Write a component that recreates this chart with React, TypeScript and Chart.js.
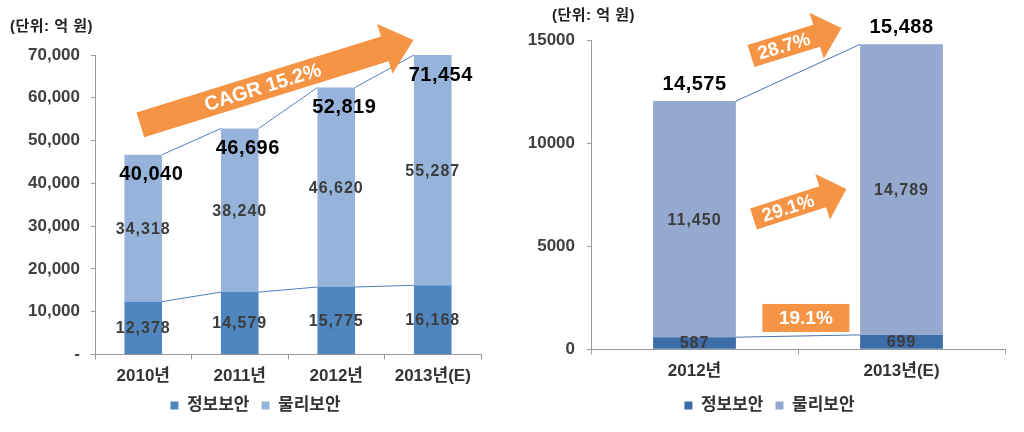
import React, { useEffect, useRef } from "react";
import { Chart, registerables } from "chart.js";
Chart.register(...registerables);

// ---------- data ----------
const seriesNames = ["정보보안", "물리보안"];
const unitLabel = "(단위: 억 원)";

const leftCategories = ["2010년", "2011년", "2012년", "2013년(E)"];
const leftInfoSec = [12378, 14579, 15775, 16168];
const leftPhysSec = [34318, 38240, 46620, 55287];
const leftTotalLabels = ["40,040", "46,696", "52,819", "71,454"];
const leftCagrLabel = "CAGR 15.2%";

const rightCategories = ["2012년", "2013년(E)"];
const rightInfoSec = [587, 699];
const rightPhysSec = [11450, 14090];
const rightInfoLabels = ["587", "699"];
const rightPhysLabels = ["11,450", "14,789"];
const rightTotalLabels = ["14,575", "15,488"];
const rightGrowthLabels = ["28.7%", "29.1%", "19.1%"];

// ---------- styles ----------
const FONT = "'Liberation Sans', 'Noto Sans CJK KR', sans-serif";
const ORANGE = "#F69446";
const fmt = (v: number) => v.toLocaleString("en-US");

type Arrow = {
  from: [number, number];
  to: [number, number];
  thick: number;
  headW: number;
  headL: number;
  text: string;
  size: number;
};
type Box = { center: [number, number]; w: number; h: number; text: string; size: number };

type OverlayCfg = {
  lineColor: string;
  innerLabels: string[][];
  totalLabels: string[];
  totalOffset: [number, number];
  unitPos: [number, number];
  legendShift: number;
  arrows: Arrow[];
  boxes: Box[];
};

function drawArrow(ctx: CanvasRenderingContext2D, x0: number, y0: number, x1: number, y1: number, a: Arrow) {
  const dx = x1 - x0, dy = y1 - y0;
  const L = Math.hypot(dx, dy);
  const ux = dx / L, uy = dy / L;
  const nx = -uy, ny = ux;
  const t = a.thick / 2, h = a.headW / 2;
  const bx = x1 - ux * a.headL, by = y1 - uy * a.headL;
  ctx.save();
  ctx.fillStyle = ORANGE;
  ctx.beginPath();
  ctx.moveTo(x0 + nx * t, y0 + ny * t);
  ctx.lineTo(bx + nx * t, by + ny * t);
  ctx.lineTo(bx + nx * h, by + ny * h);
  ctx.lineTo(x1, y1);
  ctx.lineTo(bx - nx * h, by - ny * h);
  ctx.lineTo(bx - nx * t, by - ny * t);
  ctx.lineTo(x0 - nx * t, y0 - ny * t);
  ctx.closePath();
  ctx.fill();
  ctx.translate((x0 + bx) / 2, (y0 + by) / 2);
  ctx.rotate(Math.atan2(dy, dx));
  ctx.fillStyle = "#ffffff";
  ctx.font = `bold ${a.size}px ${FONT}`;
  ctx.textAlign = "center";
  ctx.textBaseline = "middle";
  ctx.fillText(a.text, 0, 1);
  ctx.restore();
}

function makeOverlay(cfg: OverlayCfg) {
  return {
    id: "overlay",
    afterLayout(chart: any) {
      const lg = chart.legend;
      if (lg) {
        lg.left += cfg.legendShift;
        lg.right += cfg.legendShift;
      }
    },
    afterDatasetsDraw(chart: any) {
      const ctx: CanvasRenderingContext2D = chart.ctx;
      const area = chart.chartArea;
      const n = chart.data.labels.length;
      // series lines
      ctx.save();
      ctx.strokeStyle = cfg.lineColor;
      ctx.lineWidth = 1;
      chart.data.datasets.forEach((_: any, d: number) => {
        const meta = chart.getDatasetMeta(d);
        for (let i = 0; i < n - 1; i++) {
          const a = meta.data[i], b = meta.data[i + 1];
          ctx.beginPath();
          ctx.moveTo(a.x + a.width / 2, Math.max(a.y, area.top));
          ctx.lineTo(b.x - b.width / 2, Math.max(b.y, area.top));
          ctx.stroke();
        }
      });
      // inner labels
      ctx.fillStyle = "#3c3c3c";
      ctx.font = `bold 16px ${FONT}`;
      (ctx as any).letterSpacing = "1px";
      ctx.textAlign = "center";
      ctx.textBaseline = "middle";
      chart.data.datasets.forEach((_: any, d: number) => {
        const meta = chart.getDatasetMeta(d);
        meta.data.forEach((el: any, i: number) => {
          const top = Math.max(el.y, area.top);
          ctx.fillText(cfg.innerLabels[d][i], el.x, (top + el.base) / 2 + 1);
        });
      });
      (ctx as any).letterSpacing = "0px";
      ctx.restore();
    },
    afterDraw(chart: any) {
      const ctx: CanvasRenderingContext2D = chart.ctx;
      const area = chart.chartArea;
      const xs = chart.scales.x, ys = chart.scales.y;
      const last = chart.data.datasets.length - 1;
      const meta = chart.getDatasetMeta(last);
      ctx.save();
      // totals
      ctx.fillStyle = "#000000";
      ctx.font = `bold 20px ${FONT}`;
      (ctx as any).letterSpacing = "0.5px";
      ctx.textAlign = "center";
      ctx.textBaseline = "middle";
      meta.data.forEach((el: any, i: number) => {
        const top = Math.max(el.y, area.top);
        ctx.fillText(cfg.totalLabels[i], el.x + cfg.totalOffset[0], top + cfg.totalOffset[1]);
      });
      (ctx as any).letterSpacing = "0px";
      // unit
      ctx.fillStyle = "#222222";
      ctx.font = `bold 15px ${FONT}`;
      (ctx as any).letterSpacing = "0.5px";
      ctx.textAlign = "left";
      ctx.fillText(unitLabel, cfg.unitPos[0], cfg.unitPos[1]);
      (ctx as any).letterSpacing = "0px";
      ctx.restore();
      // arrows
      cfg.arrows.forEach((a) => {
        const x0 = xs.getPixelForValue(a.from[0]);
        const y0 = ys.getPixelForValue(a.from[1]);
        const x1 = xs.getPixelForValue(a.to[0]);
        const y1 = ys.getPixelForValue(a.to[1]);
        drawArrow(ctx, x0, y0, x1, y1, a);
      });
      cfg.boxes.forEach((b) => {
        const cx = xs.getPixelForValue(b.center[0]);
        const cy = ys.getPixelForValue(b.center[1]);
        ctx.save();
        ctx.fillStyle = ORANGE;
        ctx.fillRect(cx - b.w / 2, cy - b.h / 2, b.w, b.h);
        ctx.fillStyle = "#ffffff";
        ctx.font = `bold ${b.size}px ${FONT}`;
        ctx.textAlign = "center";
        ctx.textBaseline = "middle";
        ctx.fillText(b.text, cx, cy + 1);
        ctx.restore();
      });
    },
  };
}

type Spec = {
  categories: string[];
  info: number[];
  phys: number[];
  infoColor: string;
  physColor: string;
  max: number;
  step: number;
  tickFmt: (v: number) => string;
  yWidth: number;
  xHeight: number;
  padTop: number;
  padRight: number;
  barPct: number;
  yPad: number;
  overlay: OverlayCfg;
};

function StackChart({ spec }: { spec: Spec }) {
  const ref = useRef<HTMLCanvasElement>(null);
  useEffect(() => {
    if (!ref.current) return;
    const chart = new Chart(ref.current, {
      type: "bar",
      data: {
        labels: spec.categories,
        datasets: [
          { label: seriesNames[0], data: spec.info, backgroundColor: spec.infoColor, borderWidth: 0, barPercentage: spec.barPct, categoryPercentage: 1 },
          { label: seriesNames[1], data: spec.phys, backgroundColor: spec.physColor, borderWidth: 0, barPercentage: spec.barPct, categoryPercentage: 1 },
        ],
      },
      options: {
        animation: false,
        responsive: false,
        maintainAspectRatio: false,
        layout: { padding: { top: spec.padTop, right: spec.padRight, bottom: 8, left: 0 } },
        plugins: {
          legend: {
            position: "bottom",
            labels: {
              boxWidth: 8,
              boxHeight: 8,
              padding: 12,
              color: "#333333",
              font: { family: FONT, size: 17, weight: "bold" },
            },
          },
          tooltip: { enabled: false },
        },
        scales: {
          x: {
            stacked: true,
            grid: { display: true, drawOnChartArea: false, tickLength: 5, color: "#999999" },
            border: { display: true, color: "#999999" },
            ticks: { color: "#333333", padding: 7, font: { family: FONT, size: 17, weight: "bold" } },
            afterFit: (s: any) => { s.height = spec.xHeight; },
          },
          y: {
            stacked: true,
            min: 0,
            max: spec.max,
            grid: { display: true, drawOnChartArea: false, tickLength: 4, color: "#999999" },
            border: { display: true, color: "#999999" },
            ticks: {
              stepSize: spec.step,
              color: "#404040",
              padding: spec.yPad,
              font: { family: FONT, size: 17, weight: "bold" },
              callback: (v: any) => spec.tickFmt(Number(v)),
            },
            afterFit: (s: any) => { s.width = spec.yWidth; },
          },
        },
      },
      plugins: [makeOverlay(spec.overlay)],
    } as any);
    return () => chart.destroy();
  }, [spec]);
  return <canvas ref={ref} width={512} height={432} style={{ display: "block", width: 512, height: 432 }} />;
}

const leftSpec: Spec = {
  categories: leftCategories,
  info: leftInfoSec,
  phys: leftPhysSec,
  infoColor: "#4F86C0",
  physColor: "#96B4DB",
  max: 70000,
  step: 10000,
  tickFmt: (v) => (v === 0 ? "-" : fmt(v)),
  yWidth: 95,
  xHeight: 30.5,
  padTop: 55,
  padRight: 31,
  barPct: 0.39,
  yPad: 11,
  overlay: {
    lineColor: "#4F7FBF",
    innerLabels: [leftInfoSec.map(fmt), leftPhysSec.map(fmt)],
    totalLabels: leftTotalLabels,
    totalOffset: [8, 20],
    unitPos: [10, 27],
    legendShift: 15,
    arrows: [
      { from: [-0.03, 53650], to: [2.8, 73500], thick: 26, headW: 52, headL: 30, text: leftCagrLabel, size: 20 },
    ],
    boxes: [],
  },
};

const rightSpec: Spec = {
  categories: rightCategories,
  info: rightInfoSec,
  phys: rightPhysSec,
  infoColor: "#3D6DA9",
  physColor: "#94A8D0",
  max: 15000,
  step: 5000,
  tickFmt: (v) => String(v),
  yWidth: 79,
  xHeight: 35.7,
  padTop: 40,
  padRight: 19,
  barPct: 0.4,
  yPad: 12,
  overlay: {
    lineColor: "#4A72AC",
    innerLabels: [rightInfoLabels, rightPhysLabels],
    totalLabels: rightTotalLabels,
    totalOffset: [0, -17],
    unitPos: [40, 16],
    legendShift: 11,
    arrows: [
      { from: [0.273, 14220], to: [0.71, 15580], thick: 23, headW: 48, headL: 26, text: rightGrowthLabels[0], size: 19 },
      { from: [0.285, 6320], to: [0.734, 7770], thick: 22, headW: 48, headL: 25, text: rightGrowthLabels[1], size: 19 },
    ],
    boxes: [{ center: [0.538, 1520], w: 87, h: 28, text: rightGrowthLabels[2], size: 19 }],
  },
};

export default function App() {
  return (
    <div style={{ position: "absolute", left: 0, top: 0, width: 1024, height: 432, display: "flex", background: "#ffffff" }}>
      <StackChart spec={leftSpec} />
      <StackChart spec={rightSpec} />
    </div>
  );
}
